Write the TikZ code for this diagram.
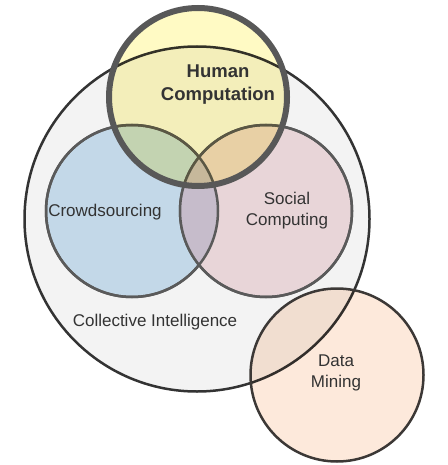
\documentclass[tikz,border=0pt]{standalone}
\usepackage{fontspec}
\setmainfont{Liberation Sans}
\usetikzlibrary{positioning}
\definecolor{ciFill}{HTML}{F3F3F3}
\definecolor{ciLine}{HTML}{333333}
\definecolor{crowdFill}{HTML}{C3D8E8}
\definecolor{socialFill}{HTML}{E8D5D8}
\definecolor{lensFill}{HTML}{C6BCCB}
\definecolor{setLine}{HTML}{5A5A5A}
\definecolor{hcFill}{HTML}{FFF9B5}
\definecolor{hcLine}{HTML}{585858}
\definecolor{dmFill}{HTML}{FDE4D2}
\definecolor{dmLine}{HTML}{3C3836}
\definecolor{labelGray}{HTML}{333333}
\newcommand{\labelSize}{\fontsize{17}{21}\selectfont}

\begin{document}
\begin{tikzpicture}[x=1pt,y=-1pt,
	Set/.style={circle,draw=#1,line width=2.5pt,inner sep=0pt},
	Tint/.style={preaction={fill=#1,blend mode=multiply,fill opacity=0.8}},
	Label/.style={text=labelGray,font=\labelSize,align=center},
]
	\useasboundingbox (0,0) rectangle (447,465);

	\node[Set=ciLine, fill=ciFill, minimum size=345pt] (ci) at (197,219) {};
	\node[Set=setLine, fill=crowdFill, minimum size=172pt] (crowd) at (132,211) {};
	\node[Set=setLine, fill=socialFill, minimum size=172pt] (social) at (266,211) {};

	% overlap of crowdsourcing and social computing
	\begin{scope}
		\clip (crowd.center) circle (86);
		\fill[lensFill] (social.center) circle (86);
	\end{scope}
	\draw[setLine, line width=2.5pt] (crowd.center) circle (86) (social.center) circle (86);

	\node[Set=hcLine, line width=6pt, Tint=hcFill, minimum size=178pt] (hc) at (198,97) {};
	\node[Set=dmLine, Tint=dmFill, minimum size=173pt] (dm) at (337,375) {};

	\node[Label, font=\fontsize{18.5}{23}\selectfont\bfseries] (hcText) at (218,85) {Human\\Computation};
	\node[Label] (crowdText) at (105,212) {Crowdsourcing};
	\node[Label] (socialText) at (287,211) {Social\\Computing};
	\node[Label] (ciText) at (155,322) {Collective Intelligence};
	\node[Label] (dmText) at (336,373) {Data\\Mining};
\end{tikzpicture}
\end{document}
